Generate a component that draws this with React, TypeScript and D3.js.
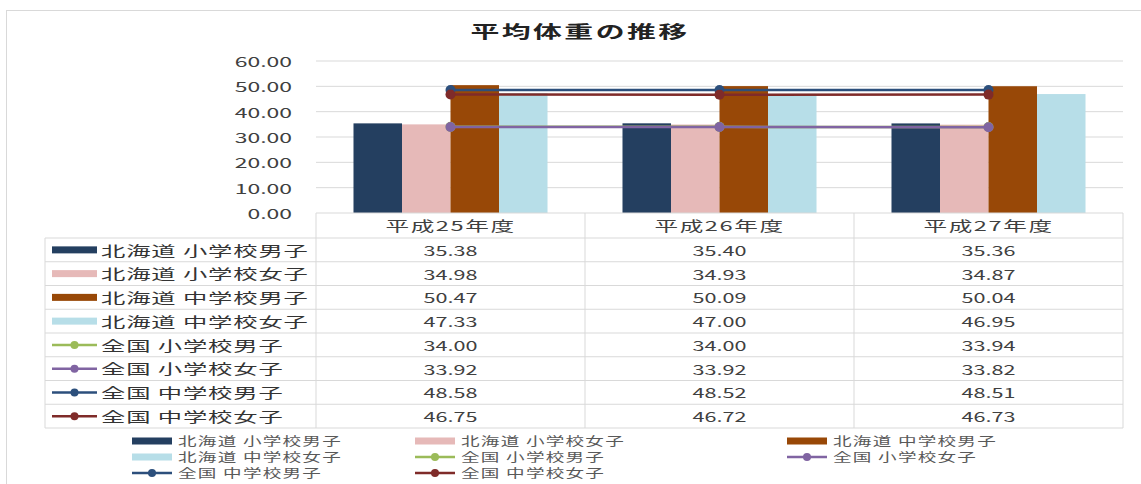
import React from 'react';
import * as d3 from 'd3';

const categories = ['平成25年度', '平成26年度', '平成27年度'];
const barSeries = ['北海道 小学校男子', '北海道 小学校女子', '北海道 中学校男子', '北海道 中学校女子'];
const barValues = [
  [35.38, 35.4, 35.36],
  [34.98, 34.93, 34.87],
  [50.47, 50.09, 50.04],
  [47.33, 47.0, 46.95],
];
const lineSeries = ['全国 小学校男子', '全国 小学校女子', '全国 中学校男子', '全国 中学校女子'];
const lineValues = [
  [34.0, 34.0, 33.94],
  [33.92, 33.92, 33.82],
  [48.58, 48.52, 48.51],
  [46.75, 46.72, 46.73],
];
const yTicks = [0, 10, 20, 30, 40, 50, 60];
const barColors = ['#243f60', '#e6b9b8', '#984807', '#b7dee8'];
const lineColors = ['#9bbb59', '#8064a2', '#2c4f7c', '#7f2b29'];

const FONT = '"Noto Sans CJK JP", "Noto Sans", sans-serif';
const SX = 1.6;

// horizontally stretched text, like the source image
const T = ({ x, y, children, anchor = 'start', size = 13.5, sx = SX, fill = '#404040', weight = 400, ls = 0 }: any) => (
  <text
    transform={`translate(${x},${y}) scale(${sx},1)`}
    textAnchor={anchor}
    dominantBaseline="central"
    fontFamily={FONT}
    fontSize={size}
    fontWeight={weight}
    fill={fill}
    letterSpacing={ls}
  >
    {children}
  </text>
);

const Swatch = ({ kind, color, x, y, w }: any) =>
  kind === 'bar' ? (
    <rect x={x} y={y - 3.5} width={w} height={7} fill={color} />
  ) : (
    <g>
      <line x1={x} x2={x + w} y1={y} y2={y} stroke={color} strokeWidth={2.5} />
      <circle cx={x + w / 2} cy={y} r={4} fill={color} />
    </g>
  );

export default function App() {
  const plotLeft = 316;
  const plotRight = 1123;
  const plotTop = 61;
  const plotBottom = 213;

  const x = d3.scaleBand().domain(categories).range([plotLeft, plotRight]);
  const xi = d3
    .scaleBand()
    .domain(barSeries)
    .range([0, x.bandwidth()])
    .paddingInner(0)
    .paddingOuter(0.773);
  const y = d3.scaleLinear().domain([0, 60]).range([plotBottom, plotTop]);

  const line = d3
    .line<number>()
    .x((_, i) => x(categories[i])! + x.bandwidth() / 2)
    .y((d) => y(d));

  // data table geometry
  const tableLeft = 45;
  const headTop = 213;
  const rowTop = 238;
  const rowH = 23.75;
  const allSeries = [...barSeries, ...lineSeries];
  const allValues = [...barValues, ...lineValues];
  const kinds = allSeries.map((_, i) => (i < 4 ? 'bar' : 'line'));
  const colors = [...barColors, ...lineColors];
  const gridColor = '#d9d9d9';

  // bottom legend: 3 columns
  const legendCols = [132, 415, 787];
  const legendRows = [441, 457, 473];

  return (
    <svg
      width={1141}
      height={484}
      style={{ position: 'absolute', left: 0, top: 0, background: '#fff' }}
    >
      <rect x={6.5} y={10.5} width={1300} height={600} fill="#fff" stroke="#d9d9d9" />

      <T x={580} y={31} anchor="middle" size={16.5} sx={1.75} fill="#222" weight={700} ls={1.4}>
        平均体重の推移
      </T>

      {/* gridlines and y labels */}
      {yTicks.map((t) => (
        <g key={t}>
          {t > 0 && (
            <line x1={plotLeft} x2={plotRight} y1={y(t)} y2={y(t)} stroke={gridColor} strokeWidth={1} />
          )}
          <T x={292} y={y(t)} anchor="end" sx={1.7}>
            {t.toFixed(2)}
          </T>
        </g>
      ))}

      {/* bars */}
      {barValues.map((vals, si) =>
        vals.map((v, ci) => (
          <rect
            key={`${si}-${ci}`}
            x={x(categories[ci])! + xi(barSeries[si])!}
            y={y(v)}
            width={xi.bandwidth()}
            height={plotBottom - y(v)}
            fill={barColors[si]}
          />
        ))
      )}

      {/* lines */}
      {lineValues.map((vals, si) => (
        <g key={si}>
          <path d={line(vals)!} fill="none" stroke={lineColors[si]} strokeWidth={2.5} />
          {vals.map((v, ci) => (
            <circle
              key={ci}
              cx={x(categories[ci])! + x.bandwidth() / 2}
              cy={y(v)}
              r={5}
              fill={lineColors[si]}
            />
          ))}
        </g>
      ))}

      {/* data table */}
      <g stroke={gridColor} strokeWidth={1} fill="none">
        <line x1={plotLeft} x2={plotRight} y1={headTop} y2={headTop} />
        {d3.range(allSeries.length + 1).map((i) => (
          <line key={i} x1={tableLeft} x2={plotRight} y1={rowTop + i * rowH} y2={rowTop + i * rowH} />
        ))}
        <line x1={tableLeft} x2={tableLeft} y1={rowTop} y2={rowTop + allSeries.length * rowH} />
        {categories.map((c) => (
          <line key={c} x1={x(c)!} x2={x(c)!} y1={headTop} y2={rowTop + allSeries.length * rowH} />
        ))}
        <line x1={plotRight} x2={plotRight} y1={headTop} y2={rowTop + allSeries.length * rowH} />
      </g>
      {categories.map((c) => (
        <T key={c} x={x(c)! + x.bandwidth() / 2} y={(headTop + rowTop) / 2} anchor="middle" sx={1.75} ls={0.9}>
          {c}
        </T>
      ))}
      {allSeries.map((s, i) => {
        const cy = rowTop + i * rowH + rowH / 2;
        return (
          <g key={s}>
            <Swatch kind={kinds[i]} color={colors[i]} x={52} y={cy} w={45} />
            <T x={101} y={cy} fill="#333" sx={1.8} ls={0.5}>
              {s}
            </T>
            {allValues[i].map((v, ci) => (
              <T key={ci} x={x(categories[ci])! + x.bandwidth() / 2} y={cy} anchor="middle">
                {v.toFixed(2)}
              </T>
            ))}
          </g>
        );
      })}

      {/* bottom legend */}
      {allSeries.map((s, i) => {
        const lx = legendCols[i % 3];
        const ly = legendRows[Math.floor(i / 3)];
        return (
          <g key={s}>
            <Swatch kind={kinds[i]} color={colors[i]} x={lx} y={ly} w={40} />
            <T x={lx + 46} y={ly} size={12} sx={1.55} fill="#595959" ls={0.8}>
              {s}
            </T>
          </g>
        );
      })}
    </svg>
  );
}
